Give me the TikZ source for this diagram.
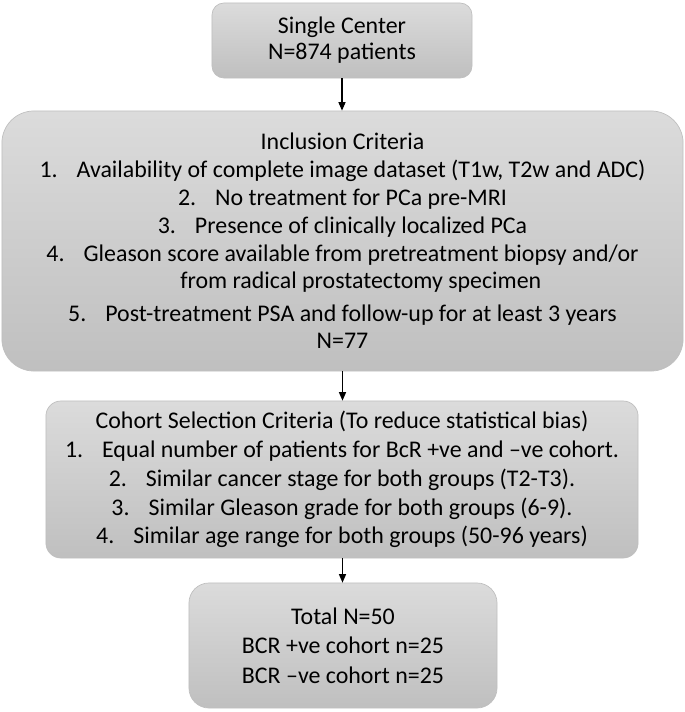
\documentclass[tikz,border=0pt]{standalone}
\usepackage{fontspec}
\setmainfont{Carlito}
\usetikzlibrary{arrows.meta}

\tikzset{
    stepbox/.style={draw=gray!50, line width=0.5pt, top color=gray!28, bottom color=gray!50,
        align=center, inner sep=0pt, font=\fontsize{17}{19.8}\selectfont},
    flowarrow/.style={-{Triangle[width=5pt,length=6pt]}, line width=0.8pt}
}
\newcommand{\itab}{\hspace{13.5pt}}

\begin{document}
\begin{tikzpicture}[x=0.025cm, y=-0.025cm]
    \useasboundingbox (0,0) rectangle (685,712);

    % Boxes
    \node[stepbox, rounded corners=0.3cm, minimum width=6.5cm, minimum height=1.875cm, font=\fontsize{17}{18.5}\selectfont] (center) at (342,40.5)
        {Single Center\\N=874 patients};

    \node[stepbox, rounded corners=0.8cm, minimum width=17.025cm, minimum height=6.5cm] (incl) at (342.5,241)
        {Inclusion Criteria\\
         1.\itab Availability of complete image dataset (T1w, T2w and ADC)\\
         2.\itab No treatment for PCa pre-MRI\\
         3.\itab Presence of clinically localized PCa\\
         4.\itab Gleason score available from pretreatment biopsy and/or\\
         \hspace*{26pt}from radical prostatectomy specimen\\[3pt]
         5.\itab Post-treatment PSA and follow-up for at least 3 years\\
         N=77};

    \node[stepbox, rounded corners=0.375cm, minimum width=14.8cm, minimum height=3.925cm, font=\fontsize{17}{20.5}\selectfont] (cohort) at (342,479.5)
        {Cohort Selection Criteria (To reduce statistical bias)\\
         1.\itab Equal number of patients for BcR +ve and –ve cohort.\\
         2.\itab Similar cancer stage for both groups (T2-T3).\\
         3.\itab Similar Gleason grade for both groups (6-9).\\
         4.\itab Similar age range for both groups (50-96 years)};

    \node[stepbox, rounded corners=0.5cm, minimum width=7.7cm, minimum height=3.125cm, font=\fontsize{17}{21}\selectfont] (total) at (343,645.5)
        {Total N=50\\BCR +ve cohort n=25\\BCR –ve cohort n=25};

    % Arrows
    \draw[flowarrow] (center.south) -- (center.south |- incl.north);
    \draw[flowarrow] (incl.south) -- (incl.south |- cohort.north);
    \draw[flowarrow] (incl.south |- cohort.south) -- (incl.south |- total.north);
\end{tikzpicture}
\end{document}
